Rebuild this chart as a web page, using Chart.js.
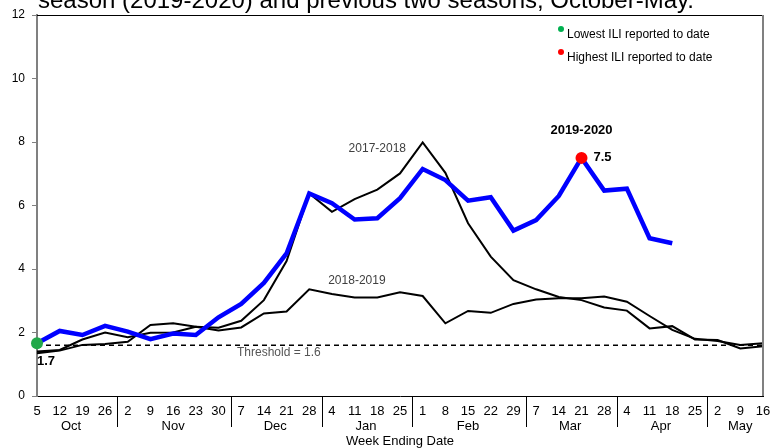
<!DOCTYPE html>
<html>
<head>
<meta charset="utf-8">
<script src="https://cdn.jsdelivr.net/npm/chart.js@4"></script>
<style>
  html, body { margin: 0; padding: 0; background: #fff; }
</style>
</head>
<body>
<canvas id="ili-chart" width="781" height="448"></canvas>
<script>
// week ending dates, Oct 5 .. May 16
const weekDays = [5, 12, 19, 26, 2, 9, 16, 23, 30, 7, 14, 21, 28, 4, 11, 18, 25, 1, 8, 15, 22, 29, 7, 14, 21, 28, 4, 11, 18, 25, 2, 9, 16];
const months = ["Oct", "Nov", "Dec", "Jan", "Feb", "Mar", "Apr", "May"];
const weeksPerMonth = [4, 5, 4, 4, 5, 4, 4, 3];

const season1718 = [1.40, 1.45, 1.78, 2.00, 1.85, 1.99, 2.00, 2.18, 2.15, 2.37, 3.02, 4.25, 6.38, 5.80, 6.20, 6.50, 7.01, 7.99, 7.03, 5.44, 4.39, 3.65, 3.36, 3.12, 3.02, 2.79, 2.69, 2.13, 2.20, 1.78, 1.76, 1.50, 1.57];
const season1819 = [1.35, 1.43, 1.61, 1.64, 1.71, 2.24, 2.29, 2.18, 2.06, 2.16, 2.60, 2.66, 3.36, 3.21, 3.10, 3.10, 3.27, 3.15, 2.29, 2.68, 2.62, 2.90, 3.04, 3.08, 3.08, 3.13, 2.97, 2.52, 2.08, 1.80, 1.73, 1.61, 1.66];
const season1920 = [1.66, 2.05, 1.92, 2.21, 2.03, 1.79, 1.97, 1.92, 2.48, 2.90, 3.56, 4.49, 6.38, 6.07, 5.56, 5.60, 6.23, 7.15, 6.80, 6.15, 6.26, 5.21, 5.54, 6.30, 7.50, 6.47, 6.53, 4.97, 4.81];
const threshold = 1.6;

const FONT = "'Liberation Sans', Arial, sans-serif";

const minIdx = season1920.indexOf(Math.min(...season1920));
const maxIdx = season1920.indexOf(Math.max(...season1920));

const extras = {
  id: "extras",
  afterDraw(chart) {
    const { ctx, chartArea: a, scales: { x, y } } = chart;
    ctx.save();

    // title, cut off at the top like the source
    ctx.fillStyle = "#000";
    ctx.font = "24px " + FONT;
    ctx.textAlign = "left";
    ctx.textBaseline = "alphabetic";
    ctx.fillText("season (2019-2020) and previous two seasons, October-May.", 38, 8);

    // frame top + right
    ctx.strokeStyle = "#000";
    ctx.lineWidth = 1;
    ctx.beginPath();
    ctx.moveTo(a.left, a.top + 0.5);
    ctx.lineTo(a.right, a.top + 0.5);
    ctx.stroke();
    ctx.strokeStyle = "#808080";
    ctx.lineWidth = 2;
    ctx.beginPath();
    ctx.moveTo(a.right, a.top);
    ctx.lineTo(a.right, a.bottom);
    ctx.stroke();

    // month separators and labels
    ctx.strokeStyle = "#000";
    ctx.lineWidth = 1;
    ctx.font = "13px " + FONT;
    ctx.textAlign = "center";
    ctx.textBaseline = "middle";
    let start = 0;
    months.forEach((m, i) => {
      const end = start + weeksPerMonth[i] - 1;
      const cx = (x.getPixelForValue(start) + x.getPixelForValue(end)) / 2;
      ctx.fillText(m, cx, 426);
      if (i < months.length - 1) {
        const sx = Math.round((x.getPixelForValue(end) + x.getPixelForValue(end + 1)) / 2) + 1.5;
        ctx.beginPath();
        ctx.moveTo(sx, a.bottom);
        ctx.lineTo(sx, 427);
        ctx.stroke();
      }
      start = end + 1;
    });
    ctx.fillText("Week Ending Date", (a.left + a.right) / 2, 441);

    // season labels
    ctx.fillStyle = "#404040";
    ctx.font = "12px " + FONT;
    ctx.fillText("2017-2018", x.getPixelForValue(15), y.getPixelForValue(7.78));
    ctx.fillText("2018-2019", x.getPixelForValue(14.1), y.getPixelForValue(3.62));
    ctx.fillStyle = "#555";
    ctx.textAlign = "left";
    ctx.fillText("Threshold = " + threshold, 237, y.getPixelForValue(threshold) + 7);

    // highlights
    const mx = x.getPixelForValue(maxIdx);
    const my = y.getPixelForValue(season1920[maxIdx]);
    ctx.fillStyle = "#000";
    ctx.font = "bold 13px " + FONT;
    ctx.textAlign = "center";
    ctx.fillText("2019-2020", mx, my - 27);
    ctx.textAlign = "left";
    ctx.fillText(season1920[maxIdx].toFixed(1), mx + 12, my);
    const lx = x.getPixelForValue(minIdx);
    const ly = y.getPixelForValue(season1920[minIdx]);
    ctx.fillText(season1920[minIdx].toFixed(1), lx, ly + 18);

    // key
    ctx.font = "12px " + FONT;
    ctx.fillStyle = "#00B050";
    ctx.beginPath();
    ctx.arc(561, 29, 3, 0, Math.PI * 2);
    ctx.fill();
    ctx.fillStyle = "#FF0000";
    ctx.beginPath();
    ctx.arc(561, 52, 3, 0, Math.PI * 2);
    ctx.fill();
    ctx.fillStyle = "#000";
    ctx.fillText("Lowest ILI reported to date", 567, 35);
    ctx.fillText("Highest ILI reported to date", 567, 58);

    ctx.restore();
  }
};

new Chart(document.getElementById("ili-chart"), {
  type: "line",
  data: {
    labels: weekDays.map(String),
    datasets: [
      {
        label: "2019-2020",
        data: season1920,
        borderColor: "#0000FF",
        borderWidth: 4.5,
        tension: 0,
        pointRadius: season1920.map((v, i) => (i === minIdx || i === maxIdx ? 6 : 0)),
        pointBackgroundColor: season1920.map((v, i) => (i === minIdx ? "#22A84A" : "#FF0000")),
        pointBorderWidth: 0,
      },
      {
        label: "2017-2018",
        data: season1718,
        borderColor: "#000",
        borderWidth: 2,
        tension: 0,
        pointRadius: 0,
      },
      {
        label: "2018-2019",
        data: season1819,
        borderColor: "#000",
        borderWidth: 2,
        tension: 0,
        pointRadius: 0,
      },
      {
        label: "Threshold",
        data: weekDays.map(() => threshold),
        borderColor: "#000",
        borderWidth: 1.5,
        borderDash: [5, 4],
        pointRadius: 0,
      },
    ],
  },
  options: {
    responsive: false,
    animation: false,
    layout: { padding: { left: 0, right: 18, top: 15, bottom: 0 } },
    plugins: {
      legend: { display: false },
      tooltip: { enabled: false },
    },
    scales: {
      x: {
        grid: { display: false },
        border: { display: true, color: "#000", width: 1 },
        ticks: {
          autoSkip: false,
          maxRotation: 0,
          padding: 0,
          color: "#000",
          font: { family: FONT, size: 13 },
        },
        afterFit: (s) => { s.height = 52; },
      },
      y: {
        min: 0,
        max: 12,
        grid: { display: true, drawOnChartArea: false, drawTicks: true, tickLength: 5, color: "#808080" },
        border: { display: true, color: "#808080", width: 2 },
        ticks: {
          stepSize: 2,
          padding: 7,
          color: "#000",
          font: { family: FONT, size: 12 },
        },
        afterFit: (s) => { s.width = 37; },
      },
    },
  },
  plugins: [extras],
});
</script>
</body>
</html>
